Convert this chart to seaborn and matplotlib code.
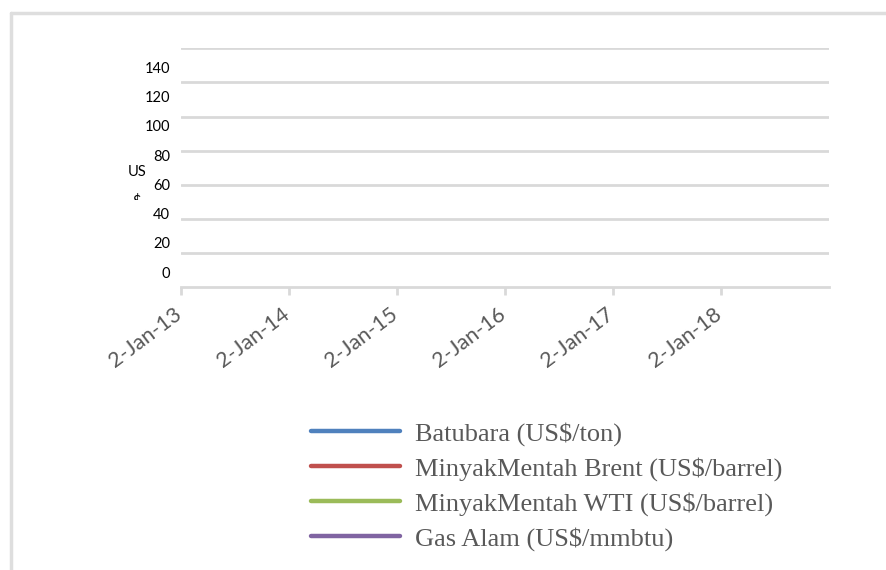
import numpy as np
import pandas as pd
import matplotlib
matplotlib.use("Agg")
import matplotlib.pyplot as plt
from matplotlib.lines import Line2D
from matplotlib.transforms import Bbox, ScaledTranslation
import seaborn as sns

# Commodity price series (no observations plotted in this panel)
series_names = [
    "Batubara (US$/ton)",
    "MinyakMentah Brent (US$/barrel)",
    "MinyakMentah WTI (US$/barrel)",
    "Gas Alam (US$/mmbtu)",
]
series_colors = ["#4F81BD", "#C0504D", "#9BBB59", "#8064A2"]
tick_dates = ["2013-01-02", "2014-01-02", "2015-01-02", "2016-01-02",
              "2017-01-02", "2018-01-02"]
tick_labels = ["2-Jan-13", "2-Jan-14", "2-Jan-15", "2-Jan-16",
               "2-Jan-17", "2-Jan-18"]
x_end = "2019-01-02"
y_ticks = [0, 20, 40, 60, 80, 100, 120, 140]

sns.set_theme(style="white")
plt.rcParams["font.family"] = ["Lato", "DejaVu Sans"]

W, H = 886, 570
fig = plt.figure(figsize=(W / 100, H / 100), dpi=100)
ax = fig.add_axes([181 / W, 1 - 287.3 / H, (829 - 181) / W, (287.3 - 48.3) / H])

# long-form table: every series present, no values yet
dates = pd.to_datetime(tick_dates)
df = pd.DataFrame({
    "Tanggal": np.repeat(dates, len(series_names)),
    "Seri": series_names * len(dates),
    "Harga": np.full(len(dates) * len(series_names), np.nan),
})
sns.lineplot(data=df, x="Tanggal", y="Harga", hue="Seri",
             hue_order=series_names, palette=series_colors,
             legend=False, ax=ax)

grid_c = "#D9D9D9"
ax.set_xlim(pd.Timestamp(tick_dates[0]), pd.Timestamp(x_end))
ax.set_ylim(0, 140)
for v in y_ticks[1:]:
    ax.axhline(v, color=grid_c, lw=2.0, zorder=0)
for s in ["top", "right", "left"]:
    ax.spines[s].set_visible(False)
ax.spines["bottom"].set_color(grid_c)
ax.spines["bottom"].set_linewidth(2.0)

ax.set_xticks(dates)
ax.set_xticklabels(tick_labels, rotation=37, ha="right", va="center",
                   rotation_mode="anchor", fontsize=15.5, color="#595959")
ax.tick_params(axis="x", length=6, width=2, color=grid_c, pad=12, bottom=True)
shift = ScaledTranslation(-2 / 100, 0, fig.dpi_scale_trans)
for lbl in ax.get_xticklabels():
    lbl.set_transform(lbl.get_transform() + shift)
ax.set_yticks([])
ax.set_xlabel("")
ax.set_ylabel("")

# value axis labels sit on their own scale next to the grid
sec = ax.secondary_yaxis("left",
                         functions=(lambda y: (y - 8.79) / 0.858,
                                    lambda v: 8.79 + v * 0.858))
sec.set_yticks(y_ticks)
sec.set_yticklabels([str(v) for v in y_ticks], fontsize=10.5, color="#000000")
sec.tick_params(length=0, pad=8)
sec.spines["left"].set_visible(False)

# axis title (second line cut by the label box)
fig.text(137 / W, 1 - 172 / H, "US", ha="center", va="center",
         fontsize=10.5, color="#000000")
dollar = fig.text(137 / W, 1 - 194 / H, "$", ha="center", va="top",
                  fontsize=10.5, color="#000000")
dollar.set_clip_on(True)
dollar.set_clip_box(Bbox.from_extents(0, H - 200, W, H))

# outer chart border
fig.add_artist(Line2D([11 / W, 11 / W], [0, 1 - 13 / H], color="#DEDEDE",
                      lw=2.5, transform=fig.transFigure))
fig.add_artist(Line2D([11 / W, 1], [1 - 13 / H, 1 - 13 / H], color="#DEDEDE",
                      lw=2.5, transform=fig.transFigure))

handles = [Line2D([], [], color=c, lw=3.2, solid_capstyle="round")
           for c in series_colors]
leg = fig.legend(handles, series_names, loc="upper left",
                 bbox_to_anchor=(311 / W, 1 - 422 / H),
                 frameon=False, borderpad=0, borderaxespad=0,
                 handlelength=3.37, handletextpad=0.57, labelspacing=0.42,
                 prop={"family": "Liberation Serif", "size": 19})
for t in leg.get_texts():
    t.set_color("#595959")

fig.savefig("out.png", dpi=100)
